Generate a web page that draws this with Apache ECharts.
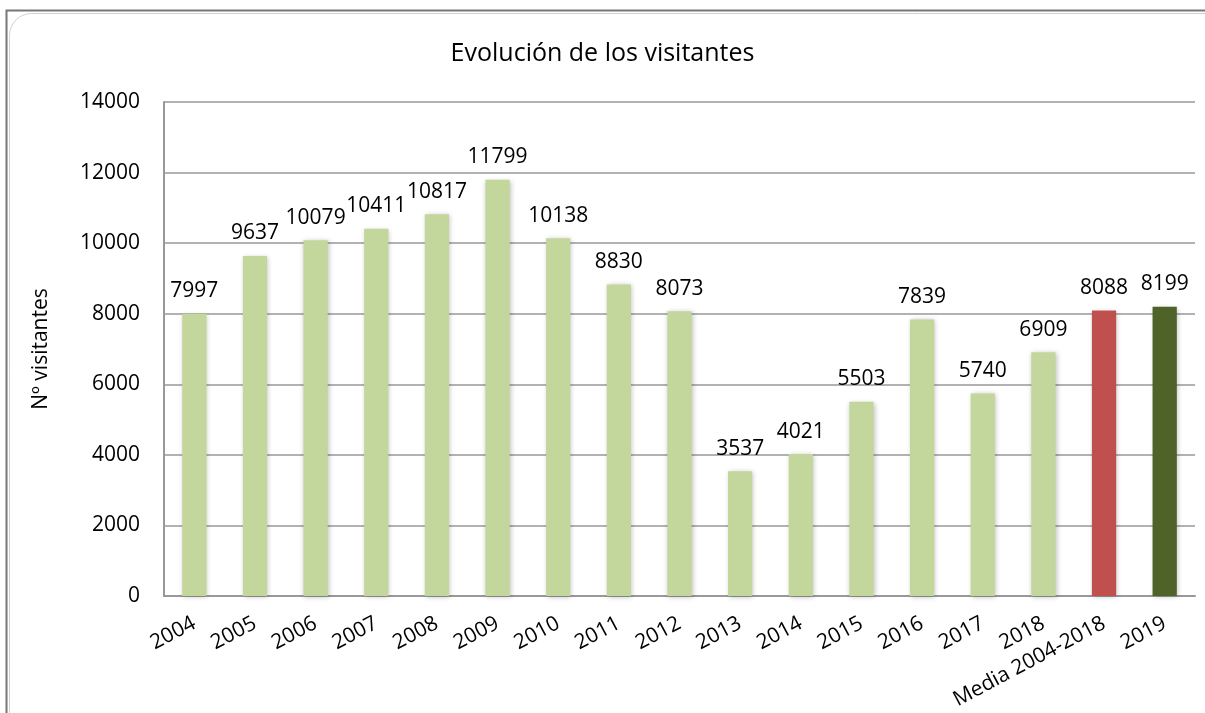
<!DOCTYPE html>
<html>
<head>
<meta charset="utf-8">
<script src="https://cdn.jsdelivr.net/npm/echarts@6/dist/echarts.min.js"></script>
<style>
  html, body { margin: 0; padding: 0; background: #fff; }
  #main { width: 1205px; height: 713px; }
</style>
</head>
<body>
<div id="main"></div>
<script>
// categories and values
var categories = ['2004', '2005', '2006', '2007', '2008', '2009', '2010', '2011', '2012',
  '2013', '2014', '2015', '2016', '2017', '2018', 'Media 2004-2018', '2019'];
var visitors = [7997, 9637, 10079, 10411, 10817, 11799, 10138, 8830, 8073,
  3537, 4021, 5503, 7839, 5740, 6909, 8088, 8199];
var yTicks = [0, 2000, 4000, 6000, 8000, 10000, 12000, 14000];

var FONT = '"Open Sans", "Noto Sans", sans-serif';
var chart = echarts.init(document.getElementById('main'));

// colour per bar: years green, mean red, last year dark olive
var barData = visitors.map(function (v, i) {
  var c = '#c3d69b';
  if (categories[i].indexOf('Media') === 0) c = '#c0504d';
  if (categories[i] === '2019') c = '#4f6228';
  return { value: v, itemStyle: { color: c } };
});

chart.setOption({
  animation: false,
  title: {
    text: 'Evolución de los visitantes',
    left: 'center',
    top: 36,
    textStyle: { fontFamily: FONT, fontSize: 25, fontWeight: 'normal', color: '#000' }
  },
  graphic: [{
    type: 'rect',
    shape: { x: 6.5, y: 10.5, width: 1220, height: 720 },
    style: { fill: 'none', stroke: '#777', lineWidth: 2 },
    silent: true
  }, {
    type: 'rect',
    shape: { x: 9.5, y: 13.5, width: 1220, height: 720, r: 22 },
    style: { fill: 'none', stroke: '#d0d0d0', lineWidth: 1 },
    silent: true
  }],
  grid: { left: 164, right: 10, top: 102, bottom: 117 },
  xAxis: {
    type: 'category',
    data: categories,
    axisLine: { lineStyle: { color: '#999', width: 2 } },
    axisTick: { show: false },
    axisLabel: {
      rotate: 28,
      interval: 0,
      margin: 26,
      fontFamily: FONT,
      fontSize: 21,
      color: '#000'
    }
  },
  yAxis: {
    type: 'value',
    min: 0,
    max: 14000,
    interval: 2000,
    name: 'Nº visitantes',
    nameLocation: 'middle',
    nameGap: 112,
    nameRotate: 90,
    nameTextStyle: { fontFamily: FONT, fontSize: 21, color: '#000' },
    axisLine: { show: true, lineStyle: { color: '#999', width: 2 } },
    axisTick: { show: false },
    splitLine: { lineStyle: { color: '#999', width: 1.5 } },
    axisLabel: {
      margin: 24,
      fontFamily: FONT,
      fontSize: 21,
      color: '#000',
      formatter: function (v) { return yTicks.indexOf(v) >= 0 ? String(v) : ''; }
    }
  },
  series: [{
    type: 'bar',
    data: barData,
    barWidth: '40%',
    itemStyle: {
      shadowBlur: 5,
      shadowColor: 'rgba(0,0,0,0.25)',
      shadowOffsetX: 1,
      shadowOffsetY: 1
    },
    label: {
      show: true,
      position: 'top',
      distance: 12,
      fontFamily: FONT,
      fontSize: 21,
      color: '#000'
    }
  }]
});
</script>
</body>
</html>
